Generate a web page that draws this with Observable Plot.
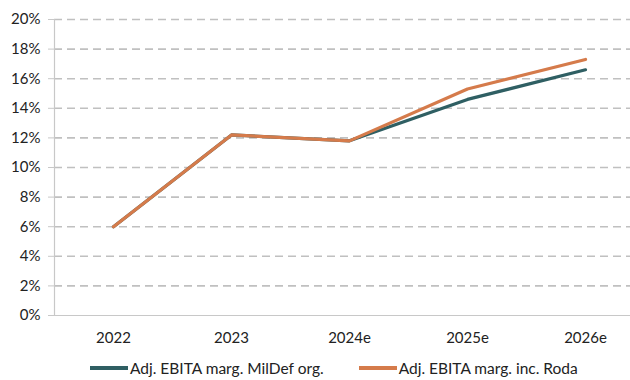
<!DOCTYPE html>
<html>
<head>
<meta charset="utf-8">
<script src="https://cdn.jsdelivr.net/npm/d3@7"></script>
<script src="https://cdn.jsdelivr.net/npm/@observablehq/plot@0.6"></script>
<style>
  html, body { margin: 0; padding: 0; background: #fff; overflow: hidden; width: 630px; height: 380px; }
  #chart { position: relative; width: 630px; }
  .legend { display: flex; align-items: center; font-family: Lato, "Open Sans", sans-serif; font-size: 15.5px; line-height: 18px; color: #222; height: 20px; padding-left: 90px; margin-top: 6px; }
  .item { display: flex; align-items: center; }
  .sw { width: 38px; height: 4px; margin-right: 2px; }
</style>
</head>
<body>
<div id="chart"></div>
<script>
const categories = ["2022", "2023", "2024e", "2025e", "2026e"];
const mildefOrg = [6.0, 12.2, 11.8, 14.6, 16.6];
const incRoda = [6.0, 12.2, 11.8, 15.3, 17.3];
const seriesNames = ["Adj. EBITA marg. MilDef org.", "Adj. EBITA marg. inc. Roda"];
const seriesColors = ["#2f5f63", "#d57b4b"];
const yTicks = [0, 2, 4, 6, 8, 10, 12, 14, 16, 18, 20];

const data = [];
categories.forEach((c, i) => {
  data.push({cat: c, value: mildefOrg[i], series: seriesNames[0]});
  data.push({cat: c, value: incRoda[i], series: seriesNames[1]});
});

const font = 'Lato, "Open Sans", sans-serif';

const plot = Plot.plot({
  width: 630,
  height: 352,
  marginTop: 19,
  marginBottom: 37,
  marginLeft: 54,
  marginRight: 0,
  style: {fontFamily: font, fontSize: "15px", color: "#222", background: "#fff"},
  x: {type: "point", domain: categories, range: [54, 644], padding: 0.5, label: null},
  y: {domain: [0, 20], label: null},
  color: {domain: seriesNames, range: seriesColors},
  marks: [
    Plot.ruleY(yTicks.filter(d => d > 0), {stroke: "#c0c0c0", strokeWidth: 1.6, strokeDasharray: "8,5"}),
    Plot.ruleY([0], {stroke: "#c8c8c8", strokeWidth: 1.2}),
    Plot.frame({anchor: "left", stroke: "#c8c8c8", strokeWidth: 1.2}),
    Plot.axisY({ticks: yTicks, tickFormat: d => d + "%", tickSize: 6, tickPadding: 8, stroke: "#c8c8c8", fill: "#222", label: null, fontSize: 15}),
    Plot.axisX({tickSize: 0, tickPadding: 17, fill: "#222", label: null, fontSize: 15}),
    Plot.line(data, {x: "cat", y: "value", z: "series", stroke: "series", strokeWidth: 3.2, curve: "linear"})
  ]
});
document.getElementById("chart").appendChild(plot);

const legend = document.createElement("div");
legend.className = "legend";
seriesNames.forEach((name, i) => {
  const item = document.createElement("div");
  item.className = "item";
  if (i === 1) item.style.marginLeft = "35px";
  const sw = document.createElement("span");
  sw.className = "sw";
  sw.style.background = seriesColors[i];
  const t = document.createElement("span");
  t.textContent = name;
  item.appendChild(sw);
  item.appendChild(t);
  legend.appendChild(item);
});
document.getElementById("chart").appendChild(legend);
</script>
</body>
</html>
